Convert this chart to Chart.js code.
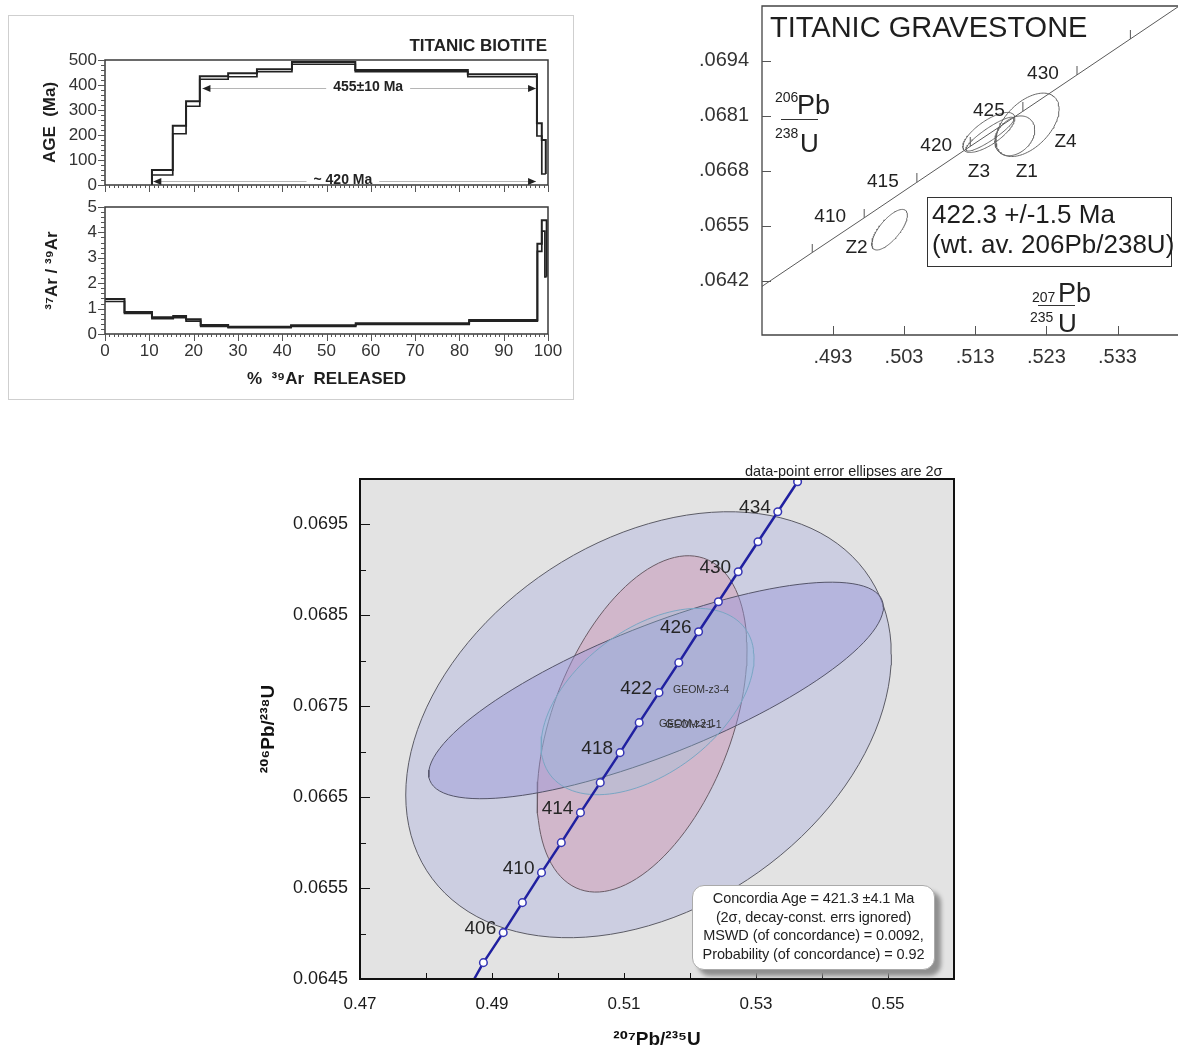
<!DOCTYPE html>
<html>
<head>
<meta charset="utf-8">
<title>Titanic biotite and gravestone ages</title>
<script src="https://cdn.jsdelivr.net/npm/chart.js@4.4.1/dist/chart.umd.min.js"></script>
<style>
  html, body { margin: 0; padding: 0; background: #fff; }
  body { position: relative; width: 1178px; height: 1051px; overflow: hidden;
         font-family: "Liberation Sans", Arial, sans-serif; color: #222; }
  canvas, .t { position: absolute; }
  .t { line-height: 1; white-space: nowrap; }
  #arBox { position: absolute; left: 8px; top: 15px; width: 564px; height: 383px; border: 1px solid #cfcfcf; }
  .rule { position: absolute; height: 1.4px; background: #333; }
  #wtBox { position: absolute; left: 927px; top: 197px; width: 245px; height: 70px; box-sizing: border-box;
           border: 1px solid #333; background: #fff; font-size: 26px; line-height: 29.5px;
           padding: 2px 0 0 4px; color: #1e1e1e; white-space: nowrap; }
  #infoBox { position: absolute; left: 692px; top: 885px; width: 243px; height: 85px; box-sizing: border-box;
             border: 1px solid #aaa; border-radius: 12px; background: #fff; box-shadow: 6px 6px 4px #8f8f8f;
             font-size: 14.5px; line-height: 18.7px; text-align: center; padding-top: 3px; color: #222;
             white-space: nowrap; letter-spacing: -0.1px; }
</style>
</head>
<body>

<div id="arBox"></div>
<canvas id="ageChart" width="566" height="190" style="left:8px;top:15px"></canvas>
<canvas id="ratioChart" width="566" height="210" style="left:8px;top:190px"></canvas>
<div class="t" style="left:300px;top:37px;width:247px;text-align:right;font-weight:bold;font-size:17px">TITANIC BIOTITE</div>

<canvas id="gravestone" width="488" height="370" style="left:690px;top:0"></canvas>
<div class="t" style="left:770px;top:13px;font-size:29px;color:#1e1e1e">TITANIC GRAVESTONE</div>
<div class="t" style="left:775px;top:90px;font-size:14px">206</div>
<div class="t" style="left:797px;top:92px;font-size:27px">Pb</div>
<div class="rule" style="left:781px;top:119px;width:37px"></div>
<div class="t" style="left:775px;top:126px;font-size:14px">238</div>
<div class="t" style="left:800px;top:130px;font-size:26px">U</div>
<div class="t" style="left:1032px;top:290px;font-size:14px">207</div>
<div class="t" style="left:1058px;top:280px;font-size:27px">Pb</div>
<div class="rule" style="left:1038px;top:305px;width:37px"></div>
<div class="t" style="left:1030px;top:310px;font-size:14px">235</div>
<div class="t" style="left:1058px;top:310px;font-size:26px">U</div>
<div id="wtBox">422.3 +/-1.5 Ma<br>(wt. av. 206Pb/238U)</div>

<canvas id="concordia" width="730" height="596" style="left:250px;top:455px"></canvas>
<div class="t" style="left:745px;top:464px;font-size:14.5px">data-point error ellipses are 2σ</div>
<div id="infoBox">Concordia Age = 421.3 ±4.1 Ma<br>(2σ, decay-const. errs ignored)<br>MSWD (of concordance) = 0.0092,<br>Probability (of concordance) = 0.92</div>

<script>
// ---------- Ar-Ar step heating (top left) ----------
const ageEdges = [10.6, 15.3, 18.3, 21.4, 27.8, 34.3, 42.2, 56.5, 81.9, 97.5, 98.6, 99.5];
const ageHigh  = [60, 237, 335, 435, 447, 463, 492, 460, 443, 247, 180];
const ageLow   = [40, 205, 315, 423, 433, 453, 483, 453, 433, 196, 44];

const caEdges = [0, 4.4, 10.6, 15.4, 18.3, 21.6, 27.8, 42.0, 56.6, 82.2, 97.6, 98.6, 99.3, 99.7];
const caHigh  = [1.38, 0.87, 0.66, 0.71, 0.58, 0.35, 0.29, 0.34, 0.42, 0.55, 3.55, 4.48, 4.48];
const caLow   = [1.28, 0.81, 0.60, 0.64, 0.51, 0.30, 0.25, 0.30, 0.38, 0.51, 3.25, 4.05, 2.25];

const plateauFrom   = [22.0, 10.9];
const plateauTo     = [97.3, 97.3];
const plateauLevel  = [388, 16];
const plateauText   = ['455±10 Ma', '~ 420 Ma'];
const plateauTextAt = [59.4, 53.7];

// ---------- Titanic gravestone concordia (top right) ----------
const gsTickX = [0.493, 0.503, 0.513, 0.523, 0.533];
const gsTickY = [0.0642, 0.0655, 0.0668, 0.0681, 0.0694];
const gsAge  = [405, 410, 415, 420, 425, 430, 435];
const gsAgeX = [0.4901, 0.4974, 0.5048, 0.5123, 0.5197, 0.5273, 0.5348];
const gsAgeY = [0.06487, 0.06569, 0.06653, 0.06738, 0.06821, 0.06907, 0.06992];
const gsLineX = [0.48304, 0.5415];
const gsLineY = [0.06407, 0.07068];
const zName = ['Z2', 'Z3', 'Z1', 'Z4', ''];
const zX   = [0.50097, 0.51492, 0.51857, 0.52035, 0.51506];
const zY   = [0.06541, 0.06771, 0.06763, 0.06789, 0.06767];
const zSx  = [0.0025, 0.00365, 0.0028, 0.00444, 0.00337];
const zSy  = [0.00048, 0.000473, 0.00047, 0.00075, 0.0004];
const zRho = [0.72, 0.72, 0.3, 0.5, 0.9];

// ---------- zircon concordia (bottom) ----------
const concAge = [404, 406, 408, 410, 412, 414, 416, 418, 420, 422, 424, 426, 428, 430, 432, 434, 436];
const concX = [0.4887, 0.4917, 0.4946, 0.4975, 0.5005, 0.5034, 0.5064, 0.5094, 0.5123,
               0.5153, 0.5183, 0.5213, 0.5243, 0.5273, 0.5303, 0.5333, 0.5363];
const concY = [0.06468, 0.06501, 0.06534, 0.06567, 0.06600, 0.06633, 0.06666, 0.06699, 0.06732,
               0.06765, 0.06798, 0.06832, 0.06865, 0.06898, 0.06931, 0.06964, 0.06997];
const concBaseX = 0.4873, concBaseY = 0.0645;
const ellName = ['GEOM-z1-1', 'GEOM-z2-1', 'GEOM-z3-4', ''];
const ellX   = [0.51372, 0.51274, 0.51485, 0.51357];
const ellY   = [0.067297, 0.067306, 0.067674, 0.067552];
const ellSx  = [0.03679, 0.0159, 0.03445, 0.01613];
const ellSy  = [0.002343, 0.00185, 0.001191, 0.001025];
const ellRho = [0.33, 0.44, 0.77, 0.47];
const cTickX = [0.47, 0.49, 0.51, 0.53, 0.55];
const cTickY = [0.0645, 0.0655, 0.0665, 0.0675, 0.0685, 0.0695];

// styles
const ellFill = ['rgba(172,177,222,0.42)', 'rgba(217,152,175,0.42)', 'rgba(150,147,217,0.42)', 'rgba(150,200,225,0.3)'];
const ellEdge = ['#5c5c66', '#6a5c66', '#55556a', '#7aa6c4'];
const zLabelShift = [[-33, 18], [-10, 39], [12, 36], [38, 17], [0, 0]];

const FONT = '"Liberation Sans", Arial, "DejaVu Sans", sans-serif';
Chart.defaults.font.family = FONT;
Chart.defaults.color = '#333';
Chart.defaults.events = [];
Chart.defaults.animation = false;
Chart.defaults.responsive = false;
Chart.defaults.plugins.legend.display = false;
Chart.defaults.plugins.tooltip.enabled = false;
Chart.defaults.elements.point.radius = 0;

function range(a, b, step) {
  const out = [];
  for (let v = a; v <= b + step / 1000; v += step) out.push(+v.toFixed(6));
  return out;
}

function stepLine(edges, vals, startY, endY) {
  const pts = [];
  const last = edges[edges.length - 1];
  if (startY !== undefined) pts.push({x: edges[0], y: startY});
  vals.forEach((v, i) => pts.push({x: edges[i], y: v}));
  pts.push({x: last, y: vals[vals.length - 1]});
  if (endY !== undefined) pts.push({x: last, y: endY});
  return pts;
}

// error ellipse outline from centre, sigmas and correlation
function ellipse(cx, cy, sx, sy, rho) {
  const pts = [], k = Math.sqrt(1 - rho * rho);
  for (let i = 0; i <= 120; i++) {
    const t = i / 120 * 2 * Math.PI;
    pts.push({x: cx + sx * Math.cos(t), y: cy + sy * (rho * Math.cos(t) + k * Math.sin(t))});
  }
  return pts;
}

// fixed axis sizes, and no extra room for labels hanging past the plot
function fixW(w) { return s => { s.width = w; s.paddingTop = 0; s.paddingBottom = 0; }; }
function fixH(h) { return s => { s.height = h; s.paddingLeft = 0; s.paddingRight = 0; }; }

function axis(min, max, extra) {
  return Object.assign({type: 'linear', min: min, max: max,
    grid: {display: false, drawTicks: false}, border: {display: false}}, extra);
}

function frame(color, width, sides) {
  return {
    id: 'frame',
    afterDatasetsDraw(chart) {
      const {ctx, chartArea: a} = chart;
      ctx.save();
      ctx.strokeStyle = color; ctx.lineWidth = width; ctx.lineCap = 'square';
      ctx.beginPath();
      if (sides.includes('l')) { ctx.moveTo(a.left, a.top); ctx.lineTo(a.left, a.bottom); }
      if (sides.includes('b')) { ctx.moveTo(a.left, a.bottom); ctx.lineTo(a.right, a.bottom); }
      if (sides.includes('t')) { ctx.moveTo(a.left, a.top); ctx.lineTo(a.right, a.top); }
      if (sides.includes('r')) { ctx.moveTo(a.right, a.top); ctx.lineTo(a.right, a.bottom); }
      ctx.stroke();
      ctx.restore();
    }
  };
}

// len > 0 points out of the plot, len < 0 points in
function tickMarks(specs, color) {
  return {
    id: 'tickMarks',
    afterDatasetsDraw(chart) {
      const {ctx, chartArea: a, scales} = chart;
      ctx.save();
      ctx.strokeStyle = color; ctx.lineWidth = 1;
      ctx.beginPath();
      specs.forEach(s => s.values.forEach(v => {
        const p = Math.round(scales[s.axis].getPixelForValue(v)) + 0.5;
        if (s.axis === 'x') { ctx.moveTo(p, a.bottom); ctx.lineTo(p, a.bottom + s.len); }
        else { ctx.moveTo(a.left, p); ctx.lineTo(a.left - s.len, p); }
      }));
      ctx.stroke();
      ctx.restore();
    }
  };
}

// ---- age spectrum ----
const plateauArrows = {
  id: 'plateauArrows',
  afterDatasetsDraw(chart) {
    const {ctx, scales: {x, y}} = chart;
    ctx.save();
    ctx.font = 'bold 14px ' + FONT;
    ctx.textAlign = 'center'; ctx.textBaseline = 'middle';
    plateauFrom.forEach((from, i) => {
      const x0 = x.getPixelForValue(from), x1 = x.getPixelForValue(plateauTo[i]);
      const py = Math.round(y.getPixelForValue(plateauLevel[i])) + 0.5;
      ctx.strokeStyle = '#b5b5b5'; ctx.lineWidth = 1;
      ctx.beginPath(); ctx.moveTo(x0, py); ctx.lineTo(x1, py); ctx.stroke();
      ctx.fillStyle = '#222';
      ctx.beginPath(); ctx.moveTo(x0, py); ctx.lineTo(x0 + 8, py - 3.5); ctx.lineTo(x0 + 8, py + 3.5); ctx.fill();
      ctx.beginPath(); ctx.moveTo(x1, py); ctx.lineTo(x1 - 8, py - 3.5); ctx.lineTo(x1 - 8, py + 3.5); ctx.fill();
      const tx = x.getPixelForValue(plateauTextAt[i]);
      const w = ctx.measureText(plateauText[i]).width;
      ctx.fillStyle = '#fff'; ctx.fillRect(tx - w / 2 - 7, py - 2, w + 14, 4);
      ctx.fillStyle = '#222'; ctx.fillText(plateauText[i], tx, py - 1.5);
    });
    ctx.restore();
  }
};

new Chart(document.getElementById('ageChart'), {
  type: 'line',
  data: {datasets: [
    {data: stepLine(ageEdges, ageHigh, 0, ageLow[ageLow.length - 1]), stepped: true, borderColor: '#222', borderWidth: 2},
    {data: stepLine(ageEdges, ageLow, 0), stepped: true, borderColor: '#222', borderWidth: 1.7}
  ]},
  options: {
    layout: {padding: {top: 45, right: 26}},
    scales: {
      x: axis(0, 100, {ticks: {display: false}, afterFit: fixH(20)}),
      y: axis(0, 500, {
        ticks: {stepSize: 100, padding: 8, font: {size: 17}},
        title: {display: true, text: 'AGE  (Ma)', color: '#1e1e1e', font: {size: 17, weight: 'bold'}, padding: {top: 32, bottom: 0}},
        afterFit: fixW(97)
      })
    }
  },
  plugins: [
    frame('#3a3a3a', 1.5, 'lbtr'),
    tickMarks([{axis: 'x', values: range(0, 100, 10), len: 7}, {axis: 'x', values: range(0, 100, 1), len: 3},
               {axis: 'y', values: range(0, 500, 100), len: 7}, {axis: 'y', values: range(0, 500, 20), len: 4}], '#555'),
    plateauArrows
  ]
});

new Chart(document.getElementById('ratioChart'), {
  type: 'line',
  data: {datasets: [
    {data: stepLine(caEdges, caHigh, undefined, caLow[caLow.length - 1]), stepped: true, borderColor: '#222', borderWidth: 2},
    {data: stepLine(caEdges, caLow), stepped: true, borderColor: '#222', borderWidth: 1.7}
  ]},
  options: {
    layout: {padding: {top: 17, right: 26}},
    scales: {
      x: axis(0, 100, {
        ticks: {stepSize: 10, padding: 7, font: {size: 17}, autoSkip: false, maxRotation: 0},
        title: {display: true, text: '%  ³⁹Ar  RELEASED', color: '#1e1e1e', font: {size: 17, weight: 'bold'}, padding: {top: 0, bottom: 10}},
        afterFit: fixH(66)
      }),
      y: axis(0, 5, {
        ticks: {stepSize: 1, padding: 8, font: {size: 17}},
        title: {display: true, text: '³⁷Ar / ³⁹Ar', color: '#1e1e1e', font: {size: 17, weight: 'bold'}, padding: {top: 34, bottom: 0}},
        afterFit: fixW(97)
      })
    }
  },
  plugins: [
    frame('#3a3a3a', 1.5, 'lbtr'),
    tickMarks([{axis: 'x', values: range(0, 100, 10), len: 7}, {axis: 'x', values: range(0, 100, 1), len: 3},
               {axis: 'y', values: range(0, 5, 1), len: 7}, {axis: 'y', values: range(0, 5, 0.2), len: 4}], '#555'),
  ]
});

// ---- gravestone concordia ----
const tickImg = document.createElement('canvas');
tickImg.width = 3; tickImg.height = 18;
(function () {
  const c = tickImg.getContext('2d');
  c.strokeStyle = '#555'; c.lineWidth = 1;
  c.beginPath(); c.moveTo(1.5, 0); c.lineTo(1.5, 9); c.stroke();
})();

const gsLabels = {
  id: 'gsLabels',
  afterDatasetsDraw(chart) {
    const {ctx, scales: {x, y}} = chart;
    ctx.save();
    ctx.font = '19px ' + FONT;
    ctx.fillStyle = '#222'; ctx.textAlign = 'center'; ctx.textBaseline = 'middle';
    gsAge.forEach((a, i) => {
      if (a < 410 || a > 430) return;
      ctx.fillText(String(a), x.getPixelForValue(gsAgeX[i]) - 34, y.getPixelForValue(gsAgeY[i]) - 1);
    });
    zName.forEach((n, i) => {
      if (!n) return;
      ctx.fillText(n, x.getPixelForValue(zX[i]) + zLabelShift[i][0], y.getPixelForValue(zY[i]) + zLabelShift[i][1]);
    });
    ctx.restore();
  }
};

const gsLine = [{x: gsLineX[0], y: gsLineY[0]}]
  .concat(gsAge.map((a, i) => ({x: gsAgeX[i], y: gsAgeY[i]})))
  .concat([{x: gsLineX[1], y: gsLineY[1]}]);

new Chart(document.getElementById('gravestone'), {
  type: 'line',
  data: {datasets: [
    {data: gsLine, borderColor: '#5a5a5a', borderWidth: 1, pointStyle: tickImg,
     pointRadius: c => (c.dataIndex === 0 || c.dataIndex === gsLine.length - 1) ? 0 : 5}
  ].concat(zName.map((n, i) => ({
    data: ellipse(zX[i], zY[i], zSx[i], zSy[i], zRho[i]), borderColor: '#666', borderWidth: 1
  })))},
  options: {
    layout: {padding: {top: 6}},
    scales: {
      x: axis(0.48304, 0.5415, {
        afterBuildTicks: s => { s.ticks = gsTickX.map(v => ({value: v})); },
        ticks: {callback: v => v.toFixed(3).slice(1), padding: 10, font: {size: 20}, autoSkip: false, maxRotation: 0},
        afterFit: fixH(35)
      }),
      y: axis(0.06292, 0.0707, {
        afterBuildTicks: s => { s.ticks = gsTickY.map(v => ({value: v})); },
        ticks: {callback: v => v.toFixed(4).slice(1), padding: 13, font: {size: 20}},
        afterFit: fixW(72)
      })
    }
  },
  plugins: [
    frame('#444', 1.3, 'lbt'),
    tickMarks([{axis: 'x', values: gsTickX, len: -9}, {axis: 'y', values: gsTickY, len: -9}], '#555'),
    gsLabels
  ]
});

// ---- zircon concordia ----
const plotBg = {
  id: 'plotBg',
  beforeDraw(chart) {
    const {ctx, chartArea: a} = chart;
    ctx.save(); ctx.fillStyle = '#e3e3e3'; ctx.fillRect(a.left, a.top, a.width, a.height); ctx.restore();
  }
};

const concLabels = {
  id: 'concLabels',
  afterDatasetsDraw(chart) {
    const {ctx, scales: {x, y}} = chart;
    ctx.save();
    ctx.font = '19px ' + FONT; ctx.fillStyle = '#262626';
    ctx.textAlign = 'right'; ctx.textBaseline = 'alphabetic';
    concAge.forEach((a, i) => {
      if ((a - 406) % 4 !== 0) return;
      ctx.fillText(String(a), x.getPixelForValue(concX[i]) - 7, y.getPixelForValue(concY[i]) + 1);
    });
    ctx.font = '10.5px ' + FONT; ctx.fillStyle = '#333';
    ctx.textAlign = 'left'; ctx.textBaseline = 'middle';
    ellName.forEach((n, i) => {
      if (n) ctx.fillText(n, x.getPixelForValue(ellX[i]) + 17, y.getPixelForValue(ellY[i]));
    });
    ctx.restore();
  }
};

const concLine = [{x: concBaseX, y: concBaseY}].concat(concAge.map((a, i) => ({x: concX[i], y: concY[i]})));

new Chart(document.getElementById('concordia'), {
  type: 'line',
  data: {datasets: [
    {data: concLine, order: 0, borderColor: '#2020a0', borderWidth: 2.5,
     pointRadius: c => c.dataIndex === 0 ? 0 : 3.8, pointBackgroundColor: '#fff',
     pointBorderColor: '#3535b5', pointBorderWidth: 1.5}
  ].concat(ellName.map((n, i) => ({
    data: ellipse(ellX[i], ellY[i], ellSx[i], ellSy[i], ellRho[i]), order: ellName.length - i,
    fill: 'shape', backgroundColor: ellFill[i], borderColor: ellEdge[i], borderWidth: 1
  })))},
  options: {
    layout: {padding: {top: 24, right: 26}},
    scales: {
      x: axis(0.47, 0.56, {
        afterBuildTicks: s => { s.ticks = cTickX.map(v => ({value: v})); },
        ticks: {callback: v => v.toFixed(2), padding: 15, font: {size: 17}, color: '#1a1a1a', autoSkip: false, maxRotation: 0},
        title: {display: true, text: '²⁰⁷Pb/²³⁵U', color: '#111', font: {size: 19, weight: 'bold'}, padding: {top: 0, bottom: 0}},
        afterFit: fixH(72)
      }),
      y: axis(0.0645, 0.0700, {
        afterBuildTicks: s => { s.ticks = cTickY.map(v => ({value: v})); },
        ticks: {callback: v => v.toFixed(4), padding: 12, font: {size: 18}, color: '#1a1a1a'},
        title: {display: true, text: '²⁰⁶Pb/²³⁸U', color: '#111', font: {size: 19, weight: 'bold'}, padding: {top: 7, bottom: 0}},
        afterFit: fixW(110)
      })
    }
  },
  plugins: [
    plotBg,
    frame('#111', 2, 'lbtr'),
    tickMarks([{axis: 'x', values: range(0.48, 0.55, 0.01), len: -6},
               {axis: 'y', values: range(0.065, 0.0695, 0.0005), len: -6},
               {axis: 'y', values: cTickY, len: -10}], '#111'),
    concLabels
  ]
});
</script>
</body>
</html>
